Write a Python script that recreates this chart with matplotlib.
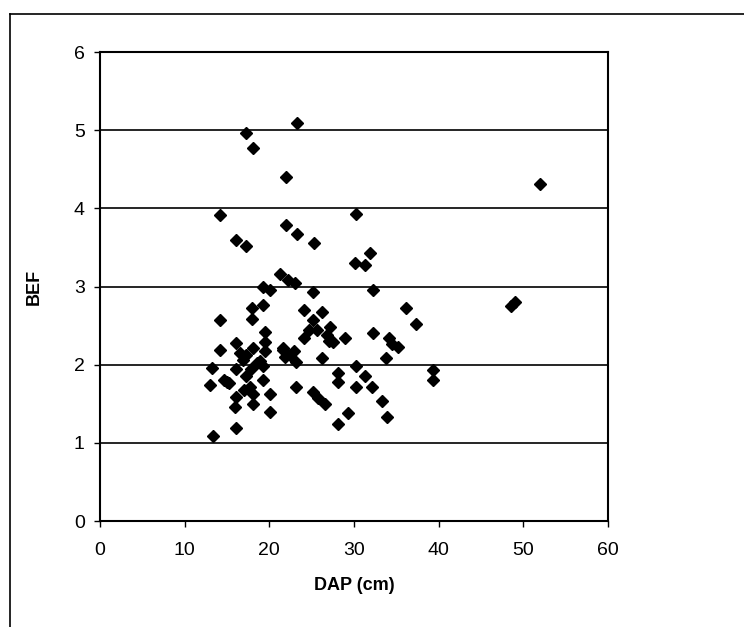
import numpy as np
import matplotlib
matplotlib.use('Agg')
import matplotlib.pyplot as plt
from matplotlib.lines import Line2D

# DAP (cm) vs BEF
dap = [17.2, 18.1, 22.0, 23.3, 14.2, 22.0, 30.2, 16.1, 17.2, 25.3,
       31.9, 23.3, 30.1, 31.3, 21.3, 22.2, 23.0, 19.2, 20.1, 25.2,
       32.2, 18.0, 19.3, 36.1, 24.1, 26.2, 18.0, 14.2, 25.2, 37.3,
       27.2, 19.5, 25.6, 32.2, 24.1, 28.9, 27.5, 34.2, 35.2, 34.5,
       16.1, 19.5, 14.2, 21.6, 18.1, 21.6, 19.5, 17.3, 22.4, 21.8,
       26.2, 16.9, 23.2, 33.8, 13.2, 16.1, 19.3, 30.2, 39.3, 17.3,
       28.1, 31.3, 14.6, 19.3, 39.3, 13.0, 15.3, 28.1, 17.7, 30.2,
       32.1, 23.2, 25.2, 16.1, 18.1, 20.1, 25.8, 15.9, 18.1, 26.6,
       33.3, 20.1, 29.3, 33.9, 28.1, 16.1, 13.3, 52.0, 48.5, 49.0,
       17.8, 18.6, 17.0, 18.9, 16.6, 24.7, 26.8, 22.9, 27.0, 15.0]
bef = [4.97, 4.77, 4.40, 5.09, 3.91, 3.79, 3.93, 3.60, 3.52, 3.56,
       3.43, 3.67, 3.30, 3.27, 3.16, 3.08, 3.05, 2.99, 2.95, 2.93,
       2.96, 2.73, 2.76, 2.72, 2.70, 2.68, 2.59, 2.57, 2.57, 2.52,
       2.48, 2.42, 2.44, 2.40, 2.34, 2.34, 2.29, 2.34, 2.23, 2.27,
       2.28, 2.29, 2.19, 2.21, 2.21, 2.19, 2.17, 2.12, 2.12, 2.10,
       2.09, 2.06, 2.04, 2.08, 1.96, 1.95, 1.98, 1.98, 1.93, 1.85,
       1.89, 1.85, 1.80, 1.80, 1.80, 1.74, 1.76, 1.78, 1.72, 1.72,
       1.72, 1.71, 1.65, 1.59, 1.63, 1.63, 1.57, 1.46, 1.50, 1.50,
       1.53, 1.40, 1.38, 1.33, 1.24, 1.19, 1.09, 4.31, 2.75, 2.80,
       1.95, 2.02, 1.68, 2.05, 2.15, 2.45, 2.38, 2.18, 2.30, 1.78]

x_ticks = [0, 10, 20, 30, 40, 50, 60]
y_ticks = [0, 1, 2, 3, 4, 5, 6]

plt.rcParams['font.family'] = ['Liberation Sans', 'DejaVu Sans']

fig = plt.figure(figsize=(7.44, 6.27), dpi=100)
ax = fig.add_axes([0.1344, 0.169, 0.6826, 0.748])

for yv in y_ticks[1:-1]:
    ax.axhline(yv, color='black', lw=1.2, zorder=1)

ax.plot(dap, bef, linestyle='none', marker='D', markersize=6,
        color='black', zorder=3)

ax.set_xlim(0, 60)
ax.set_ylim(0, 6)
ax.set_xticks(x_ticks)
ax.set_yticks(y_ticks)
ax.tick_params(direction='out', length=4, width=1, labelsize=14)
ax.tick_params(axis='x', pad=11)
ax.tick_params(axis='y', pad=7)
for s in ax.spines.values():
    s.set_linewidth(1.5)

ax.set_xlabel('DAP (cm)', fontsize=13, fontweight='bold', labelpad=13)
ax.set_ylabel('BEF', fontsize=13, fontweight='bold', labelpad=22)

# outer chart frame (cropped at right/bottom)
fig.add_artist(Line2D([0.0135, 0.0135], [0.0, 0.978], transform=fig.transFigure,
                      color='black', lw=1.2))
fig.add_artist(Line2D([0.0135, 1.0], [0.978, 0.978], transform=fig.transFigure,
                      color='black', lw=1.2))

fig.savefig('out.png', dpi=100)
